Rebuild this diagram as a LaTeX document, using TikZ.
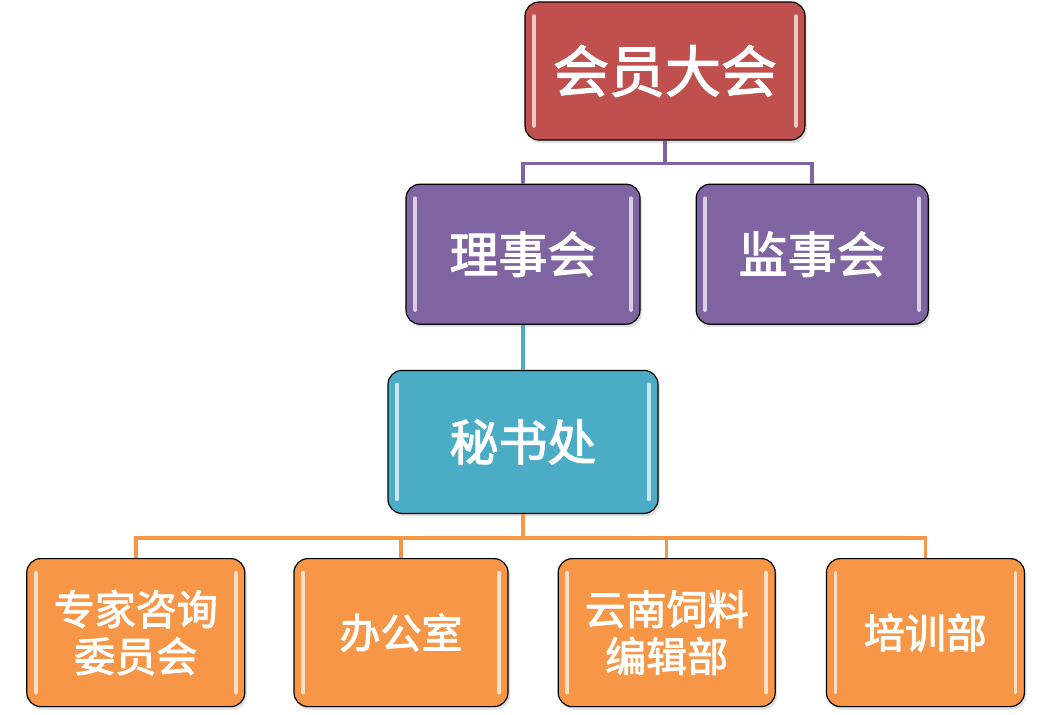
\documentclass[tikz,border=0pt]{standalone}
\usepackage{fontspec}
\newfontfamily\cjk{Noto Sans CJK SC}[BoldFont={Noto Sans CJK SC}, BoldFeatures={FakeBold=2.2}]
\usepackage{xcolor}
\usepackage{tikz}
\usetikzlibrary{positioning,calc,shadows}
\definecolor{orgred}{HTML}{C0504D}
\definecolor{orgpurple}{HTML}{8064A2}
\definecolor{orgcyan}{HTML}{4BACC6}
\definecolor{orgorange}{HTML}{F79646}
\tikzset{
  org-box/.style={draw=black, line width=1.2pt, rounded corners=14pt,
    align=center, text=white, inner sep=2pt,
    drop shadow={opacity=0.25, shadow xshift=2pt, shadow yshift=-3pt},
    path picture={
      \draw[white, opacity=0.7, line width=3.5pt, line cap=round]
        ($(path picture bounding box.north west)+(9,-14)$) --
        ($(path picture bounding box.south west)+(9,14)$);
      \draw[white, opacity=0.7, line width=3.5pt, line cap=round]
        ($(path picture bounding box.north east)+(-9,-14)$) --
        ($(path picture bounding box.south east)+(-9,14)$);
    }},
  top-box/.style={org-box, fill=orgred, minimum width=280pt, minimum height=138pt,
    font=\cjk\bfseries\fontsize{56}{60}\selectfont},
  council-box/.style={org-box, fill=orgpurple, minimum width=234pt, minimum height=140pt,
    font=\cjk\bfseries\fontsize{49}{54}\selectfont},
  office-box/.style={org-box, fill=orgcyan, minimum width=270pt, minimum height=143pt,
    font=\cjk\bfseries\fontsize{49}{54}\selectfont},
  dept-box/.style={org-box, fill=orgorange, minimum height=148pt,
    font=\cjk\bfseries\fontsize{41}{47}\selectfont},
  purple-link/.style={draw=orgpurple, line width=3.5pt},
  cyan-link/.style={draw=orgcyan, line width=3.5pt},
  orange-link/.style={draw=orgorange, line width=3.5pt}
}
\begin{document}
\begin{tikzpicture}[x=1pt, y=1pt]
\useasboundingbox (0,0) rectangle (1050,-715);

% Top: general assembly
\node[top-box] (assembly) at (665,-71) {会员大会};

% Level 1: councils
\node[council-box, below=43pt of assembly, xshift=-142pt] (board) {理事会};
\node[council-box, right=55pt of board, minimum width=232pt] (supervisory) {监事会};

% Level 2: secretariat
\node[office-box, below=45pt of board] (secretariat) {秘书处};

% Level 3: departments
\node[dept-box, below=44pt of secretariat, xshift=-122pt, minimum width=214pt] (office) {办公室};
\node[dept-box, left=48pt of office, minimum width=218pt] (experts) {专家咨询\\委员会};
\node[dept-box, right=49pt of office, minimum width=217pt] (journal) {云南饲料\\编辑部};
\node[dept-box, right=50pt of journal, minimum width=198pt] (training) {培训部};

% Bus points
\coordinate (busTop) at ($(assembly.south)+(0,-23)$);
\coordinate (busLow) at ($(secretariat.south)+(0,-24)$);

% Connections assembly -> councils
\draw[purple-link] (assembly.south) -- (busTop) -| (board.north);
\draw[purple-link] (busTop) -| (supervisory.north);

% Connection board -> secretariat
\draw[cyan-link] (board.south) -- (secretariat.north);

% Connections secretariat -> departments
\draw[orange-link] (secretariat.south) -- (busLow);
\draw[orange-link] (busLow) -| (experts.north);
\draw[orange-link] (busLow) -| (office.north);
\draw[orange-link] (busLow) -| (journal.north);
\draw[orange-link] (busLow) -| (training.north);
\end{tikzpicture}
\end{document}
